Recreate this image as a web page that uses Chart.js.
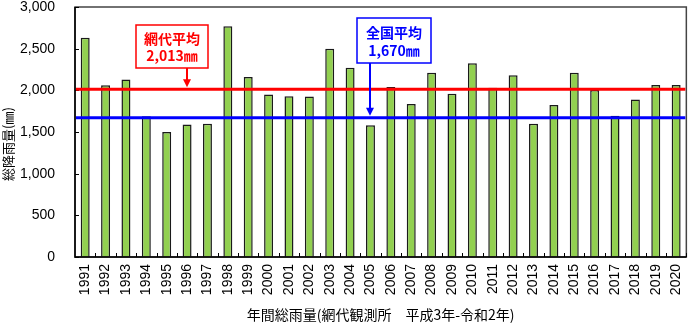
<!DOCTYPE html>
<html lang="ja">
<head>
<meta charset="UTF-8">
<title>年間総雨量</title>
<script src="https://cdn.jsdelivr.net/npm/chart.js"></script>
<style>
  html, body { margin: 0; padding: 0; background: #fff; }
  #wrap { width: 700px; height: 330px; }
</style>
</head>
<body>
<div id="wrap"><canvas id="rainChart" width="700" height="330"></canvas></div>
<script>
// 年ごとの総降雨量 (mm)
const years = ['1991','1992','1993','1994','1995','1996','1997','1998','1999','2000',
               '2001','2002','2003','2004','2005','2006','2007','2008','2009','2010',
               '2011','2012','2013','2014','2015','2016','2017','2018','2019','2020'];
const rainfall = [2630, 2060, 2130, 1690, 1500, 1590, 1600, 2770, 2160, 1950,
                  1930, 1925, 2500, 2270, 1580, 2040, 1835, 2210, 1960, 2325,
                  2030, 2180, 1600, 1825, 2210, 2005, 1695, 1890, 2065, 2065];

// 縦軸の目盛
const yTickValues = [0, 500, 1000, 1500, 2000, 2500, 3000];
const yTickLabels = ['0', '500', '1,000', '1,500', '2,000', '2,500', '3,000'];

// 平均値
const localAvg = 2013;     // 網代平均
const nationalAvg = 1670;  // 全国平均

const jpFont = '"Noto Sans CJK JP", sans-serif';
const numFont = '"Liberation Sans", Arial, sans-serif';

// 平均線・吹き出し・外枠・目盛・縦軸タイトルを描く
const avgPlugin = {
  id: 'avgLines',
  afterDatasetsDraw(chart) {
    const ctx = chart.ctx;
    const area = chart.chartArea;
    const x = chart.scales.x;
    const y = chart.scales.y;
    ctx.save();

    // 外枠
    ctx.strokeStyle = '#444';
    ctx.lineWidth = 1.5;
    ctx.strokeRect(area.left, area.top, area.right - area.left, area.bottom - area.top);
    ctx.strokeStyle = '#000';
    ctx.beginPath();
    ctx.moveTo(area.left, area.top);
    ctx.lineTo(area.left, area.bottom);
    ctx.lineTo(area.right, area.bottom);
    ctx.stroke();

    // 目盛 (内向き)
    const step = (area.right - area.left) / years.length;
    ctx.lineWidth = 1;
    ctx.beginPath();
    for (let i = 1; i <= years.length; i++) {
      const px = Math.round(area.left + step * i) + 0.5;
      ctx.moveTo(px, area.bottom);
      ctx.lineTo(px, area.bottom - 4);
    }
    yTickValues.forEach(v => {
      const py = Math.round(y.getPixelForValue(v)) + 0.5;
      ctx.moveTo(area.left, py);
      ctx.lineTo(area.left + 4, py);
    });
    ctx.stroke();

    // 平均線
    const lines = [
      { v: localAvg, color: '#ff0000' },
      { v: nationalAvg, color: '#0000ff' }
    ];
    lines.forEach(l => {
      const py = y.getPixelForValue(l.v);
      ctx.strokeStyle = l.color;
      ctx.lineWidth = 3;
      ctx.beginPath();
      ctx.moveTo(area.left + 1, py);
      ctx.lineTo(area.right - 1, py);
      ctx.stroke();
    });

    // 吹き出し
    const notes = [
      { idx: 5, v: localAvg, color: '#ff0000', dx: -51, top: 25, w: 72, h: 43,
        text: ['網代平均', '2,013㎜'], ty: [39, 56] },
      { idx: 14, v: nationalAvg, color: '#0000ff', dx: -13, top: 18, w: 74, h: 45,
        text: ['全国平均', '1,670㎜'], ty: [33, 51] }
    ];
    notes.forEach(n => {
      const ax = Math.round(x.getPixelForValue(n.idx));
      const tipY = y.getPixelForValue(n.v) - 2;
      const left = ax + n.dx;
      ctx.fillStyle = '#fff';
      ctx.fillRect(left, n.top, n.w, n.h);
      ctx.strokeStyle = n.color;
      ctx.lineWidth = 1.5;
      ctx.strokeRect(left, n.top, n.w, n.h);

      ctx.fillStyle = n.color;
      ctx.textAlign = 'center';
      ctx.textBaseline = 'middle';
      ctx.font = 'bold 14px ' + jpFont;
      n.text.forEach((t, k) => ctx.fillText(t, left + n.w / 2, n.ty[k]));

      // 矢印
      ctx.lineWidth = 2;
      ctx.beginPath();
      ctx.moveTo(ax, n.top + n.h);
      ctx.lineTo(ax, tipY - 6);
      ctx.stroke();
      ctx.beginPath();
      ctx.moveTo(ax - 4, tipY - 8);
      ctx.lineTo(ax + 4, tipY - 8);
      ctx.lineTo(ax, tipY);
      ctx.closePath();
      ctx.fill();
    });

    // 縦軸タイトル
    ctx.translate(8, (area.top + area.bottom) / 2 + 12);
    ctx.rotate(-Math.PI / 2);
    ctx.fillStyle = '#000';
    ctx.textAlign = 'center';
    ctx.textBaseline = 'middle';
    ctx.font = '13px ' + jpFont;
    ctx.fillText('総降雨量(㎜)', 0, 0);

    ctx.restore();
  }
};

new Chart(document.getElementById('rainChart'), {
  type: 'bar',
  data: {
    labels: years,
    datasets: [{
      label: '総降雨量',
      data: rainfall,
      backgroundColor: '#92d050',
      borderColor: '#1a1a1a',
      borderWidth: 1.5,
      barPercentage: 0.44,
      categoryPercentage: 1.0
    }]
  },
  options: {
    responsive: false,
    animation: false,
    devicePixelRatio: 1,
    layout: { padding: { top: 7, right: 3, left: 0, bottom: 0 } },
    plugins: {
      legend: { display: false },
      tooltip: { enabled: false }
    },
    scales: {
      x: {
        grid: { display: false, drawTicks: false },
        border: { display: false },
        ticks: {
          autoSkip: false,
          minRotation: 90,
          maxRotation: 90,
          padding: 7,
          color: '#000',
          font: { family: numFont, size: 14 }
        },
        title: {
          display: true,
          text: '年間総雨量(網代観測所　平成3年-令和2年)',
          color: '#000',
          font: { family: jpFont, size: 14 },
          padding: { top: 0, bottom: 7 }
        },
        afterFit(scale) { scale.height = 73; }
      },
      y: {
        min: 0,
        max: 3000,
        grid: { display: false, drawTicks: false },
        border: { display: false },
        afterBuildTicks(scale) {
          scale.ticks = yTickValues.map(v => ({ value: v }));
        },
        ticks: {
          padding: 20,
          color: '#000',
          font: { family: numFont, size: 14 },
          callback: (v, i) => yTickLabels[i]
        },
        title: { display: false },
        afterFit(scale) {
          scale.width = 75;
          // 目盛の余白が上下の余白に加算されないようにする
          scale.paddingTop = 0;
          scale.paddingBottom = 0;
        }
      }
    }
  },
  plugins: [avgPlugin]
});
</script>
</body>
</html>
